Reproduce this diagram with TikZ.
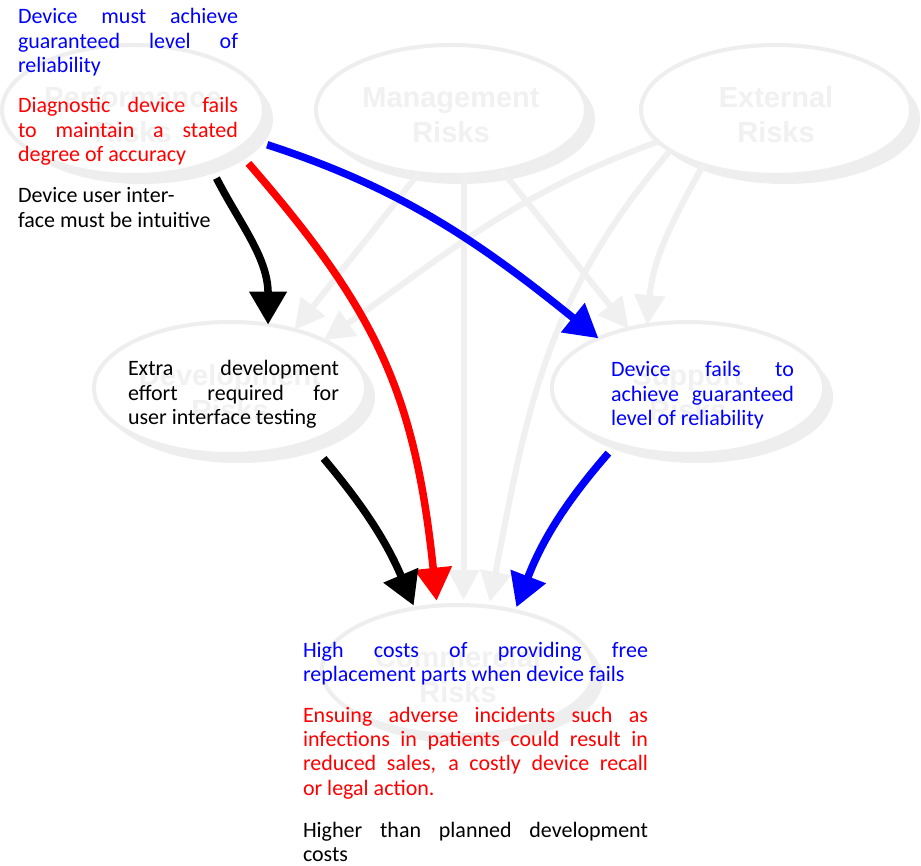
\documentclass[tikz,border=0pt]{standalone}
\usepackage{fontspec}
\setmainfont{Carlito}
\newfontfamily\labelfont{Liberation Sans}
\usetikzlibrary{shapes.geometric, arrows.meta, shadows}
\definecolor{ringgray}{RGB}{238,238,238}
\definecolor{labelgray}{RGB}{241,241,241}
\definecolor{linkgray}{RGB}{240,240,240}

\begin{document}
\begin{tikzpicture}[x=1pt, y=1pt,
  risk/.style={ellipse, draw=ringgray, line width=4pt, fill=white,
    inner sep=0pt, outer sep=0pt, minimum width=270pt, minimum height=130pt,
    drop shadow={shadow xshift=9pt, shadow yshift=-9pt, fill=ringgray, opacity=1}},
  risklabel/.style={inner sep=0pt, align=center, text=labelgray, yshift=-5pt,
    font=\labelfont\bfseries\fontsize{29}{35}\selectfont},
  note/.style={anchor=base west, inner sep=0pt, outer sep=0pt, align=justify,
    font=\fontsize{22}{24.4}\selectfont,
    execute at begin node={\tolerance=10000\hyphenpenalty=10000}},
  faint/.style={draw=linkgray, line width=6pt, -{Triangle[length=30pt, width=30pt]}},
  strong/.style={line width=7.5pt, -{Triangle[length=33pt, width=36pt]}},
]
\useasboundingbox (0,0) rectangle (921,-866);
\fill[white] (0,0) rectangle (921,-866);

% risk categories
\node[risk, minimum width=262pt, label={[risklabel]center:Performance\\Risks}] (perf) at (133,-110) {};
\node[risk, label={[risklabel]center:Management\\Risks}] (mgmt) at (451,-110) {};
\node[risk, label={[risklabel]center:External\\Risks}] (ext) at (776,-110) {};
\node[risk, minimum width=272pt, minimum height=132pt, label={[risklabel]center:Development\\Risks}] (dev) at (230,-388) {};
\node[risk, minimum width=272pt, minimum height=132pt, label={[risklabel]center:Support\\Risks}] (supp) at (688,-388) {};
\node[risk, minimum width=272pt, label={[risklabel]center:Commercial\\Risks}] (comm) at (458,-670) {};

% background dependencies
\draw[faint] (mgmt.-117) -- (dev.42);
\draw[faint] (mgmt.-50) -- (supp.135);
\draw[faint, shorten >=5pt] (mgmt.-79.5) -- (mgmt.-79.5 |- comm.north);
\draw[faint] (ext.195) to[out=200, in=35] (dev.27);
\draw[faint] (ext.217) to[out=241, in=85] (supp.123);
\draw[faint, shorten >=5pt] (ext.201) to[out=229, in=79] (comm.64);

% highlighted risk chains
\draw[strong, black, shorten <=17pt] (perf.-35) to[out=-63, in=90] (dev.59);
\draw[strong, red, shorten <=18pt, shorten >=5pt] (perf.-21) to[out=-49, in=96, looseness=1.1] (comm.108);
\draw[strong, blue, shorten <=18pt] (perf.-14) to[out=-18, in=141] (supp.151);
\draw[strong, black, shorten <=22pt, shorten >=3pt] (dev.-34) to[out=-50, in=113] (comm.125);
\draw[strong, blue, shorten <=12pt, shorten >=4pt] (supp.-142) to[out=-131, in=69] (comm.46);

% risk descriptions
\node[note, text width=220pt, text=blue] (perfa) at (18,-24)
  {Device must achieve\linebreak guaranteed level of\linebreak reliability};
\node[note, text width=220pt, text=red] (perfb) at (18,-113)
  {Diagnostic device fails\linebreak to maintain a stated\linebreak degree of accuracy};
\node[note, text width=220pt, text=black] (perfc) at (18,-203)
  {Device user inter-\newline face must be intuitive};
\node[note, text width=211pt, text=black] (devnote) at (128,-376)
  {Extra development\linebreak effort required for\linebreak user interface testing};
\node[note, text width=183pt, text=blue] (suppnote) at (611,-377)
  {Device fails to\linebreak achieve guaranteed\linebreak level of reliability};
\node[note, text width=345pt, text=blue] (comma) at (303,-657)
  {High costs of providing free\linebreak replacement parts when device fails};
\node[note, text width=345pt, text=red] (commb) at (303,-722)
  {Ensuing adverse incidents such as\linebreak infections in patients could result in\linebreak reduced sales, a costly device recall\linebreak or legal action.};
\node[note, text width=345pt, text=black] (commc) at (303,-837)
  {Higher than planned development\linebreak costs};
\end{tikzpicture}
\end{document}
